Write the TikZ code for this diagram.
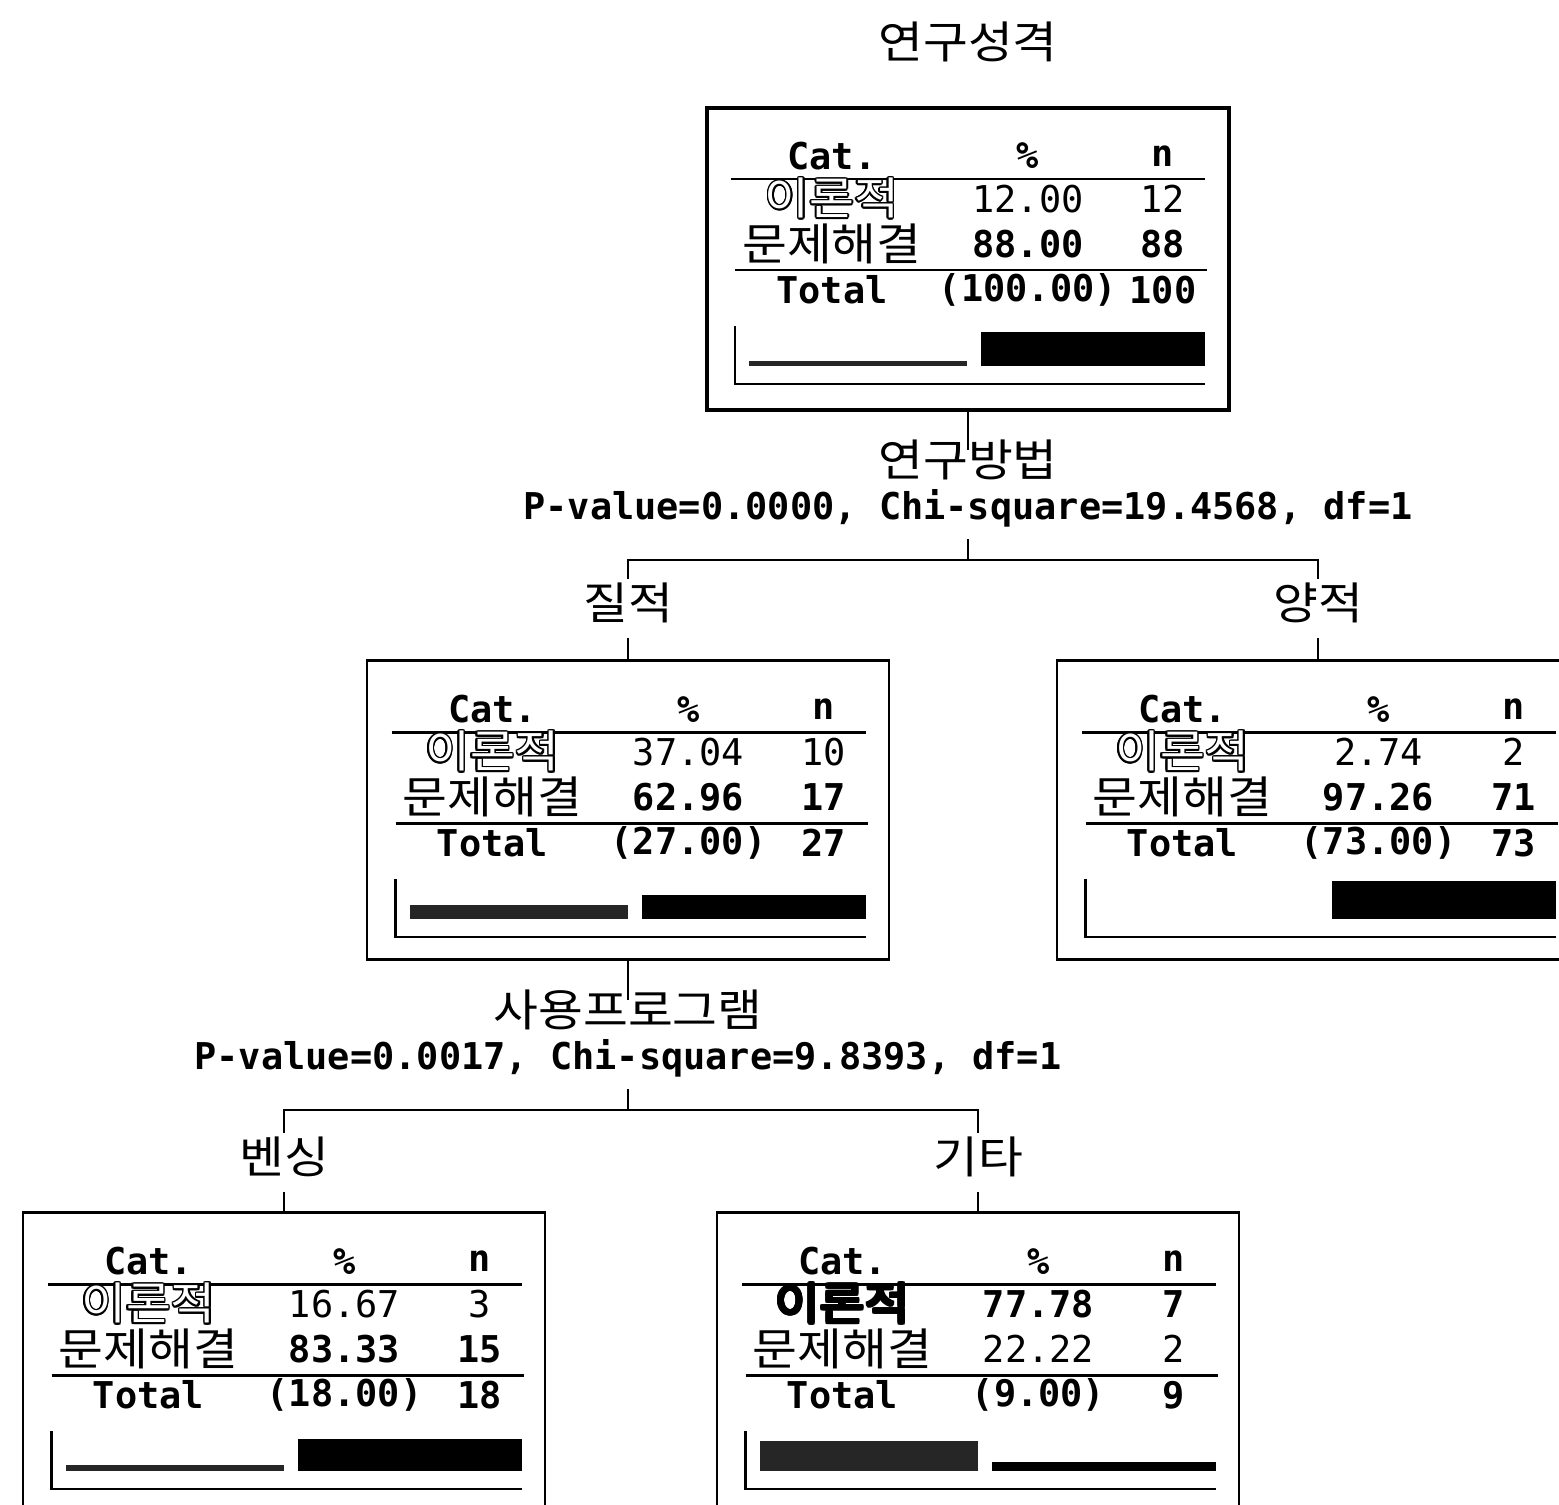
\documentclass[tikz,border=0pt]{standalone}
\usepackage{fontspec}
\usepackage{contour}
\usetikzlibrary{positioning}
\newfontfamily\korfam[FakeStretch=1.1]{Noto Sans CJK KR}
\newfontfamily\monofam{DejaVu Sans Mono}
\contourlength{0.45pt}

\newcommand{\kortxt}{\korfam\fontsize{12.6pt}{14pt}\selectfont}
\newcommand{\numtxt}{\monofam\fontsize{10.5pt}{12pt}\selectfont}
\newcommand{\numbold}{\monofam\bfseries\fontsize{10.5pt}{12pt}\selectfont}

% tabella di un nodo dell'albero
\newcommand{\chaidtab}[9]{%
  \begin{scope}[shift={(#1.north west)}]
    \node[head] (#1-c) at (127,50) {Cat.};
    \node[head] (#1-p) at (323,50) {\%};
    \node[head] (#1-n) at (458,50) {n};
    \draw[rule] (26,73) -- (500,73);
    \node[#2 lab] (#1-k1) at (127,93) {\contour{black}{이론적}};
    \node[#2] (#1-p1) at (323,93) {#3};
    \node[#2] (#1-n1) at (458,93) {#4};
    \node[kor, inner sep=0pt] (#1-k2) at (127,138) {문제해결};
    \node[#5] (#1-p2) at (323,138) {#6};
    \node[#5] (#1-n2) at (458,138) {#7};
    \draw[rule] (30,164) -- (502,164);
    \node[head] (#1-t) at (127,184) {Total};
    \node[head] (#1-tp) at (323,184) {(#8)};
    \node[head] (#1-tn) at (458,184) {#9};
    % barre
    \draw[axis] (30,220) -- (30,278) -- (500,278);
    \ifdim #3pt>5pt \fill[black!85] (44,260) rectangle (262,{260-0.39*#3}); \fi
    \fill (276,260) rectangle (500,{260-0.39*#6});
  \end{scope}}

\begin{document}
\begin{tikzpicture}[x=0.01cm, y=-0.01cm,
  kor/.style={font=\kortxt, inner sep=1pt},
  stat/.style={font=\numbold},
  head/.style={font=\numbold, inner sep=0pt},
  lowrow/.style={font=\numtxt, inner sep=0pt},
  highrow/.style={font=\numbold, inner sep=0pt},
  lowrow lab/.style={font=\kortxt, inner sep=0pt, text=white},
  highrow lab/.style={font=\kortxt, inner sep=0pt, text=black},
  box/.style={draw, line width=0.75pt, minimum width=5.22cm, minimum height=2.99cm, inner sep=0pt},
  rule/.style={line width=0.8pt},
  axis/.style={line width=0.6pt},
  tree/.style={line width=0.6pt}]

\useasboundingbox (0,0) rectangle (1559,1505);
\clip (0,0) rectangle (1559,1505);

% Radice
\node[kor] (title) at (968,42) {연구성격};
\node[box, line width=1.1pt, minimum height=3.02cm] (root) at (968,259) {};
\chaidtab{root}{lowrow}{12.00}{12}{highrow}{88.00}{88}{100.00}{100}

% Primo split
\node[kor] (var1) at (968,460) {연구방법};
\node[stat] (stat1) at (968,508) {P-value=0.0000, Chi-square=19.4568, df=1};
\coordinate (fork1) at (968,560);
\node[kor] (lq) at (628,603) {질적};
\node[kor] (lr) at (1318,603) {양적};
\node[box] (qual) at (628,810) {};
\node[box] (quant) at (1318,810) {};
\chaidtab{qual}{lowrow}{37.04}{10}{highrow}{62.96}{17}{27.00}{27}
\chaidtab{quant}{lowrow}{2.74}{2}{highrow}{97.26}{71}{73.00}{73}

% Secondo split
\node[kor] (var2) at (628,1010) {사용프로그램};
\node[stat] (stat2) at (628,1058) {P-value=0.0017, Chi-square=9.8393, df=1};
\coordinate (fork2) at (628,1110);
\node[kor] (lb) at (284,1157) {벤싱};
\node[kor] (lo) at (978,1157) {기타};
\node[box] (bench) at (284,1362) {};
\node[box] (other) at (978,1362) {};
\chaidtab{bench}{lowrow}{16.67}{3}{highrow}{83.33}{15}{18.00}{18}
\chaidtab{other}{highrow}{77.78}{7}{lowrow}{22.22}{2}{9.00}{9}

% Rami
\draw[tree] (root.south) -- ([yshift=-4pt]var1.north);
\draw[tree] (stat1.south) -- (fork1);
\draw[tree] (lq.north) |- (fork1) -| (lr.north);
\draw[tree, shorten <=3pt] (lq.south) -- (qual.north);
\draw[tree, shorten <=3pt] (lr.south) -- (quant.north);
\draw[tree] (qual.south) -- ([yshift=-4pt]var2.north);
\draw[tree] (stat2.south) -- (fork2);
\draw[tree] (lb.north) |- (fork2) -| (lo.north);
\draw[tree, shorten <=3pt] (lb.south) -- (bench.north);
\draw[tree, shorten <=3pt] (lo.south) -- (other.north);

\end{tikzpicture}
\end{document}
